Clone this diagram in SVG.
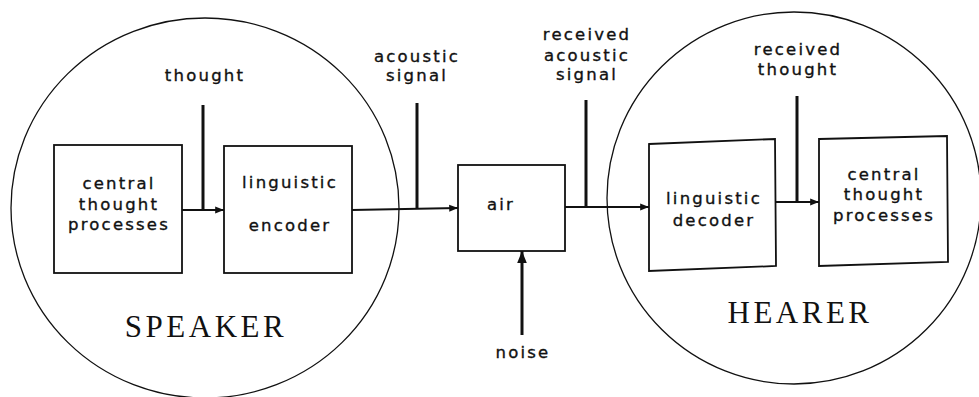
<svg xmlns="http://www.w3.org/2000/svg" width="979" height="397" viewBox="0 0 979 397">
<style>
.t{font-family:"DejaVu Sans","Liberation Sans",sans-serif;font-size:16.5px;letter-spacing:2.2px;fill:#111;stroke:#111;stroke-width:0.35;text-anchor:middle}
.big{font-family:"Liberation Serif","DejaVu Serif",serif;font-size:31px;letter-spacing:3.5px;fill:#111;text-anchor:middle}
.box{fill:none;stroke:#111;stroke-width:1.8}
.circ{fill:none;stroke:#111;stroke-width:1.3}
.ln{fill:none;stroke:#111;stroke-width:2.2}
.vl{fill:none;stroke:#111;stroke-width:3}
</style>
<defs>
<marker id="ah" viewBox="0 0 10 10" refX="10" refY="5" markerWidth="4" markerHeight="4" orient="auto" markerUnits="strokeWidth">
<path d="M0,1 L10,5 L0,9 z" fill="#111"/>
</marker>
</defs>
<g id="speaker">
<ellipse class="circ" cx="205" cy="208" rx="194" ry="190"/>
<text class="big" x="206" y="337">SPEAKER</text>
</g>
<g id="hearer">
<ellipse class="circ" cx="794" cy="198" rx="187" ry="186"/>
<text class="big" x="800" y="323">HEARER</text>
</g>
<g id="central-speaker">
<rect class="box" x="54" y="145" width="128" height="128"/>
<text class="t" x="119" y="189">central</text>
<text class="t" x="119" y="210">thought</text>
<text class="t" x="119" y="230">processes</text>
</g>
<g id="encoder">
<rect class="box" x="224" y="146" width="128" height="127"/>
<text class="t" x="290" y="188">linguistic</text>
<text class="t" x="290" y="231">encoder</text>
</g>
<g id="air">
<rect class="box" x="458" y="165" width="107" height="86"/>
<text class="t" x="501" y="210">air</text>
</g>
<g id="decoder">
<polygon class="box" points="649,144 775,139 776,266 649,271"/>
<text class="t" x="714" y="204">linguistic</text>
<text class="t" x="714" y="226">decoder</text>
</g>
<g id="central-hearer">
<polygon class="box" points="819,139 947,136 948,262 819,266"/>
<text class="t" x="884" y="180">central</text>
<text class="t" x="884" y="200">thought</text>
<text class="t" x="884" y="221">processes</text>
</g>
<g id="labels">
<text class="t" x="205" y="81">thought</text>
<text class="t" x="417" y="62">acoustic</text>
<text class="t" x="417" y="81">signal</text>
<text class="t" x="587" y="40">received</text>
<text class="t" x="587" y="61">acoustic</text>
<text class="t" x="587" y="80">signal</text>
<text class="t" x="798" y="55">received</text>
<text class="t" x="798" y="75">thought</text>
<text class="t" x="523" y="358">noise</text>
</g>
<g id="connectors">
<line class="ln" x1="182" y1="210" x2="224" y2="210" marker-end="url(#ah)"/>
<line class="vl" x1="203" y1="105" x2="203" y2="210"/>
<line class="ln" x1="352" y1="210" x2="458" y2="208" marker-end="url(#ah)"/>
<line class="vl" x1="417" y1="103" x2="417" y2="209"/>
<line class="ln" x1="565" y1="207" x2="649" y2="207" marker-end="url(#ah)"/>
<line class="vl" x1="586" y1="100" x2="586" y2="207"/>
<line class="ln" x1="776" y1="202" x2="819" y2="202" marker-end="url(#ah)"/>
<line class="vl" x1="797" y1="96" x2="797" y2="202"/>
<line class="vl" x1="522" y1="335" x2="522" y2="251" marker-end="url(#ah)"/>
</g>
</svg>
